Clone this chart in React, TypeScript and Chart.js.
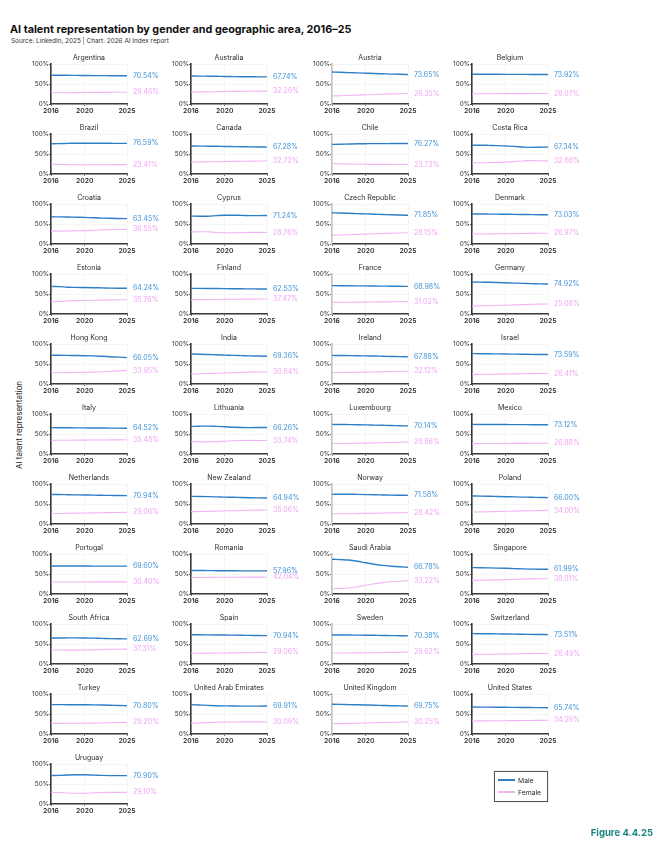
import React, { useEffect, useRef } from "react";
import { Chart, registerables } from "chart.js";
Chart.register(...registerables);

const years = [2016, 2017, 2018, 2019, 2020, 2021, 2022, 2023, 2024, 2025];
const xTicks = [2016, 2020, 2025];
const yTicks = [0, 50, 100];

const countries = [
  "Argentina", "Australia", "Austria", "Belgium",
  "Brazil", "Canada", "Chile", "Costa Rica",
  "Croatia", "Cyprus", "Czech Republic", "Denmark",
  "Estonia", "Finland", "France", "Germany",
  "Hong Kong", "India", "Ireland", "Israel",
  "Italy", "Lithuania", "Luxembourg", "Mexico",
  "Netherlands", "New Zealand", "Norway", "Poland",
  "Portugal", "Romania", "Saudi Arabia", "Singapore",
  "South Africa", "Spain", "Sweden", "Switzerland",
  "Turkey", "United Arab Emirates", "United Kingdom", "United States",
  "Uruguay",
];

const maleShare = [
  [72, 72, 71.8, 71.5, 71.3, 71, 71, 70.8, 70.7, 70.54],
  [70, 69.8, 69.5, 69.2, 68.8, 68.5, 68.2, 68, 67.9, 67.74],
  [80, 79.3, 78.5, 77.8, 77, 76.2, 75.5, 74.8, 74.2, 73.65],
  [74.5, 74.4, 74.3, 74.2, 74.1, 74, 74, 73.9, 73.9, 73.92],
  [75.5, 76, 76.5, 77, 77, 77, 76.8, 76.7, 76.6, 76.59],
  [70, 69.8, 69.5, 69.2, 68.8, 68.5, 68.2, 67.8, 67.5, 67.28],
  [74, 74.5, 75, 75.5, 75.8, 76, 76, 76.1, 76.2, 76.27],
  [72, 72, 71.5, 71, 70, 69, 67.5, 66.5, 66.8, 67.34],
  [68, 67.8, 67.5, 67, 66.5, 65.5, 64.8, 64.2, 63.8, 63.45],
  [70, 69.5, 69.5, 71, 72, 72, 71.5, 71, 71, 71.24],
  [78, 77.5, 76.8, 76, 75.3, 74.5, 73.8, 73, 72.4, 71.85],
  [75, 75, 74.8, 74.6, 74.4, 74, 73.8, 73.5, 73.2, 73.03],
  [69, 68.5, 67, 66.5, 66.2, 65.8, 65.3, 64.8, 64.4, 64.24],
  [64, 64, 63.8, 63.6, 63.4, 63.2, 63, 62.8, 62.6, 62.53],
  [71, 70.8, 70.6, 70.4, 70.2, 70, 69.7, 69.4, 69.2, 68.98],
  [80, 79.6, 79.2, 78.7, 78, 77.3, 76.6, 76, 75.4, 74.92],
  [72, 71.8, 71.5, 71.2, 70.8, 70.2, 69.3, 68.3, 67.2, 66.05],
  [75, 74.5, 73.8, 73, 72.3, 71.6, 71, 70.4, 69.9, 69.36],
  [71.5, 71.3, 71, 70.7, 70.3, 69.9, 69.4, 68.9, 68.4, 67.88],
  [76, 75.8, 75.5, 75.2, 74.9, 74.6, 74.3, 74, 73.8, 73.59],
  [66, 65.8, 65.6, 65.4, 65.2, 65, 64.9, 64.8, 64.6, 64.52],
  [69, 69.5, 69.8, 69, 68, 67, 66.3, 66, 66.1, 66.26],
  [74, 73.8, 73.5, 73.2, 72.8, 72.3, 71.8, 71.3, 70.7, 70.14],
  [74, 73.9, 73.8, 73.7, 73.6, 73.5, 73.4, 73.3, 73.2, 73.12],
  [74, 73.7, 73.3, 72.9, 72.5, 72.1, 71.8, 71.5, 71.2, 70.94],
  [69, 68.8, 68.4, 67.9, 67.3, 66.8, 66.2, 65.7, 65.3, 64.94],
  [74, 74.5, 74.5, 74, 73.5, 73, 72.6, 72.2, 71.9, 71.58],
  [70, 69.7, 69.3, 68.8, 68.3, 67.8, 67.3, 66.8, 66.4, 66.0],
  [70, 70, 70, 70, 69.9, 69.8, 69.7, 69.7, 69.6, 69.6],
  [59, 58.8, 58.5, 58.3, 58.1, 58, 57.9, 57.9, 57.9, 57.96],
  [87, 86, 85, 82, 78, 74.5, 71.5, 69.5, 68, 66.78],
  [66, 65.7, 65.3, 64.8, 64.2, 63.5, 62.8, 62.3, 62, 61.99],
  [65, 65, 65.2, 65.3, 65, 64.6, 64, 63.4, 63, 62.69],
  [73, 73, 72.8, 72.6, 72.4, 72.1, 71.8, 71.5, 71.2, 70.94],
  [72.5, 72.5, 72.4, 72.2, 72, 71.7, 71.4, 71, 70.7, 70.38],
  [76, 75.8, 75.6, 75.4, 75, 74.7, 74.3, 74, 73.7, 73.51],
  [73.5, 73.4, 73.3, 73.2, 73, 72.8, 72.4, 71.9, 71.3, 70.8],
  [73.5, 72.5, 71.5, 70.8, 70.3, 70, 69.8, 69.8, 69.8, 69.91],
  [74.5, 74, 73.5, 73, 72.5, 72, 71.4, 70.8, 70.3, 69.75],
  [67.5, 67.3, 67.1, 66.9, 66.7, 66.5, 66.3, 66.1, 65.9, 65.74],
  [71, 71.5, 72.5, 73, 73, 72.3, 71.5, 71, 70.9, 70.9],
];

const femaleShare = [
  [28, 28, 28.2, 28.5, 28.7, 29, 29, 29.2, 29.3, 29.46],
  [30, 30.2, 30.5, 30.8, 31.2, 31.5, 31.8, 32, 32.1, 32.26],
  [20, 20.7, 21.5, 22.2, 23, 23.8, 24.5, 25.2, 25.8, 26.35],
  [25.5, 25.6, 25.7, 25.8, 25.9, 26, 26, 26.1, 26.1, 26.07],
  [24.5, 24, 23.5, 23, 23, 23, 23.2, 23.3, 23.4, 23.41],
  [30, 30.2, 30.5, 30.8, 31.2, 31.5, 31.8, 32.2, 32.5, 32.72],
  [26, 25.5, 25, 24.5, 24.2, 24, 24, 23.9, 23.8, 23.73],
  [28, 28, 28.5, 29, 30, 31, 32.5, 33.5, 33.2, 32.66],
  [32, 32.2, 32.5, 33, 33.5, 34.5, 35.2, 35.8, 36.2, 36.55],
  [30, 30.5, 30.5, 29, 28, 28, 28.5, 29, 29, 28.76],
  [22, 22.5, 23.2, 24, 24.7, 25.5, 26.2, 27, 27.6, 28.15],
  [25, 25, 25.2, 25.4, 25.6, 26, 26.2, 26.5, 26.8, 26.97],
  [31, 31.5, 33, 33.5, 33.8, 34.2, 34.7, 35.2, 35.6, 35.76],
  [36, 36, 36.2, 36.4, 36.6, 36.8, 37, 37.2, 37.4, 37.47],
  [29, 29.2, 29.4, 29.6, 29.8, 30, 30.3, 30.6, 30.8, 31.02],
  [20, 20.4, 20.8, 21.3, 22, 22.7, 23.4, 24, 24.6, 25.08],
  [28, 28.2, 28.5, 28.8, 29.2, 29.8, 30.7, 31.7, 32.8, 33.95],
  [25, 25.5, 26.2, 27, 27.7, 28.4, 29, 29.6, 30.1, 30.64],
  [28.5, 28.7, 29, 29.3, 29.7, 30.1, 30.6, 31.1, 31.6, 32.12],
  [24, 24.2, 24.5, 24.8, 25.1, 25.4, 25.7, 26, 26.2, 26.41],
  [34, 34.2, 34.4, 34.6, 34.8, 35, 35.1, 35.2, 35.4, 35.48],
  [31, 30.5, 30.2, 31, 32, 33, 33.7, 34, 33.9, 33.74],
  [26, 26.2, 26.5, 26.8, 27.2, 27.7, 28.2, 28.7, 29.3, 29.86],
  [26, 26.1, 26.2, 26.3, 26.4, 26.5, 26.6, 26.7, 26.8, 26.88],
  [26, 26.3, 26.7, 27.1, 27.5, 27.9, 28.2, 28.5, 28.8, 29.06],
  [31, 31.2, 31.6, 32.1, 32.7, 33.2, 33.8, 34.3, 34.7, 35.06],
  [26, 25.5, 25.5, 26, 26.5, 27, 27.4, 27.8, 28.1, 28.42],
  [30, 30.3, 30.7, 31.2, 31.7, 32.2, 32.7, 33.2, 33.6, 34.0],
  [30, 30, 30, 30, 30.1, 30.2, 30.3, 30.3, 30.4, 30.4],
  [41, 41.2, 41.5, 41.7, 41.9, 42, 42.1, 42.1, 42.1, 42.04],
  [13, 14, 15, 18, 22, 25.5, 28.5, 30.5, 32, 33.22],
  [34, 34.3, 34.7, 35.2, 35.8, 36.5, 37.2, 37.7, 38, 38.01],
  [35, 35, 34.8, 34.7, 35, 35.4, 36, 36.6, 37, 37.31],
  [27, 27, 27.2, 27.4, 27.6, 27.9, 28.2, 28.5, 28.8, 29.06],
  [27.5, 27.5, 27.6, 27.8, 28, 28.3, 28.6, 29, 29.3, 29.62],
  [24, 24.2, 24.4, 24.6, 25, 25.3, 25.7, 26, 26.3, 26.49],
  [26.5, 26.6, 26.7, 26.8, 27, 27.2, 27.6, 28.1, 28.7, 29.2],
  [26.5, 27.5, 28.5, 29.2, 29.7, 30, 30.2, 30.2, 30.2, 30.09],
  [25.5, 26, 26.5, 27, 27.5, 28, 28.6, 29.2, 29.7, 30.25],
  [32.5, 32.7, 32.9, 33.1, 33.3, 33.5, 33.7, 33.9, 34.1, 34.26],
  [29, 28.5, 27.5, 27, 27, 27.7, 28.5, 29, 29.1, 29.1],
];

const seriesNames = ["Male", "Female"];
const lineColors = ["#2f7fc6", "#f3b4f6"];
const labelColors = ["#3f92d8", "#f0a4f4"];

const FONT = "Inter, 'Noto Sans', sans-serif";
const TEXT = "#2b2b2b";

// layout constants (pixels)
const PLOT_LEFT0 = 51;
const PLOT_TOP0 = 64;
const COL_PITCH = 140.3;
const ROW_PITCH = 70;
const PLOT_W = 76;
const PLOT_H = 40;
const Y_AXIS_W = 40;
const X_AXIS_H = 16;
const PAD_TOP = 14;
const PAD_RIGHT = 42;
const CANVAS_W = Y_AXIS_W + PLOT_W + PAD_RIGHT;
const CANVAS_H = PAD_TOP + PLOT_H + X_AXIS_H;

const panelTextPlugin = {
  id: "panelText",
  afterDraw(chart: any, _args: any, opts: any) {
    const { ctx, chartArea } = chart;
    ctx.save();
    ctx.font = `7px ${FONT}`;
    ctx.fillStyle = TEXT;
    ctx.textAlign = "center";
    ctx.textBaseline = "middle";
    ctx.fillText(opts.title, (chartArea.left + chartArea.right) / 2, chartArea.top - 6);
    chart.data.datasets.forEach((ds: any, i: number) => {
      const meta = chart.getDatasetMeta(i);
      const last = meta.data.length - 1;
      const pt = meta.data[last];
      ctx.fillStyle = labelColors[i];
      ctx.textAlign = "left";
      ctx.textBaseline = "middle";
      ctx.font = `7px ${FONT}`;
      ctx.fillText(ds.data[last].y.toFixed(2) + "%", chartArea.right + 6, pt.y);
    });
    ctx.restore();
  },
};

function Panel({ index }: { index: number }) {
  const ref = useRef<HTMLCanvasElement>(null);
  const col = index % 4;
  const row = Math.floor(index / 4);
  const plotLeft = PLOT_LEFT0 + COL_PITCH * col;
  const plotTop = PLOT_TOP0 + ROW_PITCH * row;

  useEffect(() => {
    if (!ref.current) return;
    const series = [maleShare[index], femaleShare[index]];
    const chart = new Chart(ref.current, {
      type: "line",
      data: {
        datasets: series.map((vals, i) => ({
          label: seriesNames[i],
          data: years.map((yr, j) => ({ x: yr, y: vals[j] })),
          borderColor: lineColors[i],
          borderWidth: i === 0 ? 1.4 : 1.1,
          pointRadius: 0,
          fill: false,
          tension: 0.4,
          cubicInterpolationMode: "monotone",
        })),
      },
      options: {
        animation: false,
        responsive: false,
        devicePixelRatio: 1,
        layout: { padding: { top: PAD_TOP, right: PAD_RIGHT, left: 0, bottom: 0 } },
        plugins: {
          legend: { display: false },
          tooltip: { enabled: false },
          title: { display: false },
          panelText: { title: countries[index] },
        } as any,
        scales: {
          x: {
            type: "linear",
            min: 2016,
            max: 2025,
            afterBuildTicks: (s: any) => {
              s.ticks = xTicks.map((v) => ({ value: v }));
            },
            afterFit: (s: any) => {
              s.height = X_AXIS_H;
            },
            ticks: {
              callback: (v: any) => String(v),
              font: { family: FONT, size: 6.8, weight: "600" },
              color: TEXT,
              padding: 1,
              maxRotation: 0,
              autoSkip: false,
            },
            grid: { color: "#f1f1f1", lineWidth: 0.8, tickLength: 2, tickColor: "#444" },
            border: { color: "#3a3a3a", width: 1.6 },
          },
          y: {
            min: 0,
            max: 100,
            afterBuildTicks: (s: any) => {
              s.ticks = yTicks.map((v) => ({ value: v }));
            },
            afterFit: (s: any) => {
              s.width = Y_AXIS_W;
            },
            ticks: {
              callback: (v: any) => v + "%",
              font: { family: FONT, size: 6.4 },
              color: TEXT,
              padding: 0,
            },
            grid: { color: "#f3f3f3", lineWidth: 0.8, tickLength: 2, tickColor: "#444" },
            border: { color: col === 2 ? "#c4c4c4" : "#3a3a3a", width: 1.6 },
          },
        },
      } as any,
      plugins: [panelTextPlugin as any],
    });
    return () => chart.destroy();
  }, [index]);

  return (
    <canvas
      ref={ref}
      width={CANVAS_W}
      height={CANVAS_H}
      style={{
        position: "absolute",
        left: plotLeft - Y_AXIS_W,
        top: plotTop - PAD_TOP,
        width: CANVAS_W,
        height: CANVAS_H,
      }}
    />
  );
}

export default function App() {
  return (
    <div
      style={{
        position: "absolute",
        left: 0,
        top: 0,
        width: 662,
        height: 850,
        background: "#fff",
        overflow: "hidden",
        fontFamily: FONT,
      }}
    >
      <div
        style={{
          position: "absolute",
          left: 10,
          top: 23,
          fontSize: 10.8,
          fontWeight: 700,
          color: "#111",
          whiteSpace: "nowrap",
          lineHeight: "14px",
        }}
      >
        AI talent representation by gender and geographic area, 2016–25
      </div>
      <div
        style={{
          position: "absolute",
          left: 11,
          top: 37,
          fontSize: 6.4,
          color: "#333",
          whiteSpace: "nowrap",
          lineHeight: "9px",
        }}
      >
        Source: LinkedIn, 2025 | Chart: 2026 AI Index report
      </div>
      <div
        style={{
          position: "absolute",
          left: 19,
          top: 425,
          transform: "translate(-50%, -50%) rotate(-90deg)",
          fontSize: 8,
          color: "#222",
          whiteSpace: "nowrap",
        }}
      >
        AI talent representation
      </div>
      {countries.map((_, i) => (
        <Panel key={i} index={i} />
      ))}
      <div
        style={{
          position: "absolute",
          left: 494,
          top: 771,
          width: 52,
          height: 29,
          border: "1px solid #555",
          boxShadow: "0 0 1px rgba(0,0,0,0.3)",
          background: "#fff",
        }}
      >
        {seriesNames.map((name, i) => (
          <div
            key={name}
            style={{ position: "absolute", left: 3, top: 3 + i * 12, height: 10, display: "flex", alignItems: "center" }}
          >
            <div style={{ width: 17, height: 1.5, background: lineColors[i], marginRight: 3 }} />
            <span style={{ fontSize: 6.8, color: TEXT }}>{name}</span>
          </div>
        ))}
      </div>
      <div
        style={{
          position: "absolute",
          right: 9,
          top: 827,
          fontSize: 9.5,
          fontWeight: 700,
          color: "#1b8585",
          whiteSpace: "nowrap",
        }}
      >
        Figure 4.4.25
      </div>
    </div>
  );
}
